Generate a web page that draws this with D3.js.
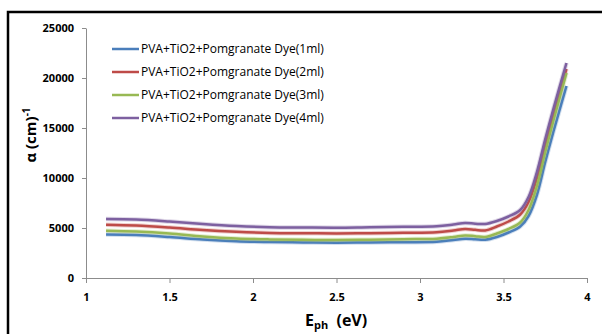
<!DOCTYPE html>
<html>
<head>
<meta charset="utf-8">
<script src="https://cdn.jsdelivr.net/npm/d3@7"></script>
<style>
  body { margin: 0; background: #fff; }
  svg text { font-family: 'Open Sans', 'Liberation Sans', sans-serif; }
</style>
</head>
<body>
<svg id="chart"></svg>
<script>
// photon energy (eV) for every sample
const energy = [1.12, 1.3, 1.5, 1.7, 1.9, 2.1, 2.3, 2.5, 2.7, 2.9, 3.1, 3.2, 3.27, 3.33, 3.39, 3.46, 3.53, 3.6, 3.65, 3.7, 3.75, 3.8, 3.877]

const dye1ml = [4350, 4300, 4100, 3850, 3680, 3600, 3550, 3530, 3550, 3580, 3620, 3800, 3930, 3880, 3830, 4100, 4550, 5150, 6200, 8300, 11600, 14700, 19200]
const dye2ml = [5330, 5250, 5050, 4800, 4620, 4500, 4470, 4460, 4480, 4520, 4570, 4750, 4900, 4820, 4760, 5150, 5650, 6350, 7600, 10000, 13300, 16400, 20900]
const dye3ml = [4730, 4650, 4450, 4150, 3950, 3860, 3820, 3800, 3830, 3880, 3930, 4100, 4260, 4180, 4100, 4450, 4900, 5550, 6800, 9200, 12600, 15800, 20500]
const dye4ml = [5900, 5850, 5650, 5400, 5200, 5080, 5050, 5030, 5080, 5120, 5180, 5350, 5500, 5430, 5400, 5700, 6150, 6800, 8100, 10600, 13900, 17000, 21500]

const seriesNames = ['PVA+TiO2+Pomgranate Dye(1ml)', 'PVA+TiO2+Pomgranate Dye(2ml)', 'PVA+TiO2+Pomgranate Dye(3ml)', 'PVA+TiO2+Pomgranate Dye(4ml)']
const colors = ['#4a7ebb', '#be4b48', '#98b954', '#7d60a0']
const xTicks = [1, 1.5, 2, 2.5, 3, 3.5, 4]
const yTicks = [0, 5000, 10000, 15000, 20000, 25000]

const W = 602
const H = 334
const margin = { top: 28, left: 86, right: 15, bottom: 56 }
const width = 587 - margin.left
const height = 278 - margin.top

const svg = d3.select('#chart').attr('width', W).attr('height', H)

// outer frame
svg.append('rect')
  .attr('x', 8).attr('y', 12)
  .attr('width', 700).attr('height', 400)
  .attr('fill', 'none')
  .attr('stroke', '#000')
  .attr('stroke-width', 2.5)

const g = svg.append('g')
  .attr('transform', 'translate(' + margin.left + ',' + margin.top + ')')

const xScale = d3.scaleLinear().domain([1, 4]).range([0, width])
const yScale = d3.scaleLinear().domain([0, 25000]).range([height, 0])

/// axes ////////////////////////////////
const yAxis = g.append('g')
  .attr('class', 'axis y-axis')
  .call(d3.axisLeft(yScale).tickValues(yTicks).tickSize(4).tickPadding(8).tickSizeOuter(0).tickFormat(d3.format('d')))
yAxis.selectAll('path, line').attr('stroke', '#8c8c8c')
yAxis.selectAll('text')
  .attr('font-size', 11)
  .attr('font-weight', 'bold')
  .attr('fill', '#000')

const xAxis = g.append('g')
  .attr('class', 'axis x-axis')
  .attr('transform', 'translate(0,' + height + ')')
  .call(d3.axisBottom(xScale).tickValues(xTicks).tickSize(5).tickPadding(10).tickSizeOuter(0).tickFormat(d3.format('')))
xAxis.selectAll('path, line').attr('stroke', '#8c8c8c')
xAxis.selectAll('text')
  .attr('font-size', 11)
  .attr('font-weight', 'bold')
  .attr('fill', '#000')

/// lines ////////////////////////////////
const allSeries = [dye1ml, dye2ml, dye3ml, dye4ml]
const line = d3.line()
  .x(d => xScale(d[0]))
  .y(d => yScale(d[1]))
  .curve(d3.curveCatmullRom.alpha(0.5))

allSeries.forEach((vals, i) => {
  const pts = energy.map((e, j) => [e, vals[j]])
  g.append('path')
    .datum(pts)
    .attr('d', line)
    .attr('fill', 'none')
    .attr('stroke', colors[i])
    .attr('stroke-opacity', 0.25)
    .attr('stroke-width', 4.5)
  g.append('path')
    .datum(pts)
    .attr('d', line)
    .attr('fill', 'none')
    .attr('stroke', colors[i])
    .attr('stroke-width', 2.5)
})

/// legend ////////////////////////////////
const legendY = [49, 72, 95, 118]
seriesNames.forEach((name, i) => {
  svg.append('line')
    .attr('x1', 112).attr('x2', 139)
    .attr('y1', legendY[i]).attr('y2', legendY[i])
    .attr('stroke', colors[i])
    .attr('stroke-width', 2.5)
  svg.append('text')
    .attr('x', 141)
    .attr('y', legendY[i])
    .attr('dy', '0.35em')
    .attr('font-size', 12)
    .attr('fill', '#000')
    .text(name)
})

/// axis titles ////////////////////////////////
const xTitle = svg.append('text')
  .attr('x', 305)
  .attr('y', 326)
  .attr('font-size', 16)
  .attr('font-weight', 'bold')
xTitle.append('tspan').text('E')
xTitle.append('tspan').attr('font-size', 11).attr('dy', 3).text('ph')
xTitle.append('tspan').attr('dy', -3).text('\u00a0\u00a0(eV)')

const yTitle = svg.append('text')
  .attr('transform', 'translate(36,135) rotate(-90)')
  .attr('text-anchor', 'middle')
  .attr('font-size', 15)
  .attr('font-weight', 'bold')
yTitle.append('tspan').text('\u03b1 (cm)')
yTitle.append('tspan').attr('font-size', 10).attr('dy', -6).text('-1')
</script>
</body>
</html>
